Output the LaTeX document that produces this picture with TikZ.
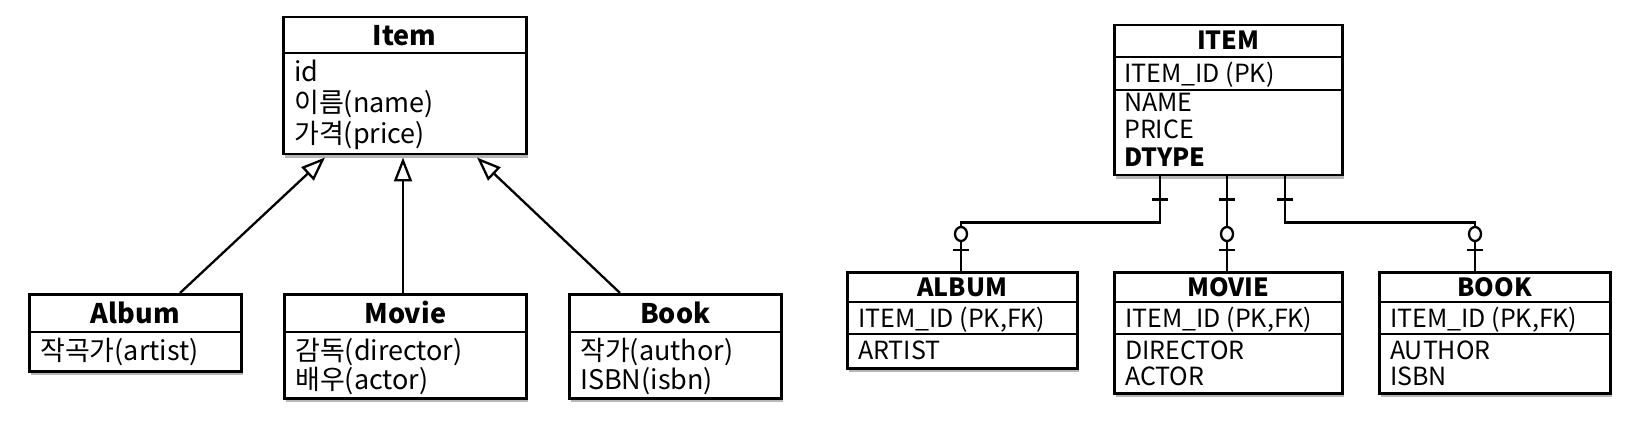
\documentclass[tikz,border=0pt]{standalone}
\usepackage{fontspec}
\setmainfont{Noto Sans CJK KR}
\usetikzlibrary{arrows.meta,shadows,calc}
\tikzset{
  box/.style={draw, line width=2.5pt, fill=white, inner sep=0pt, anchor=north west,
    drop shadow={shadow xshift=2pt, shadow yshift=-4pt, opacity=.4, fill=black!70}},
  sepline/.style={line width=2.3pt},
  ttl/.style={anchor=base, inner sep=0pt, font=\fontsize{27}{31}\selectfont\bfseries},
  txt/.style={anchor=base west, inner sep=0pt, font=\fontsize{27}{31}\selectfont},
  ttlR/.style={anchor=base, inner sep=0pt, font=\fontsize{25}{28}\selectfont\bfseries},
  txtR/.style={anchor=base west, inner sep=0pt, font=\fontsize{25}{28}\selectfont},
  conn/.style={line width=2.3pt, line cap=butt},
  gen/.style={conn, -{Triangle[open, fill=white, length=24pt, width=18pt, line width=2.3pt]}},
}
\begin{document}
\begin{tikzpicture}[x=1pt, y=-1pt]
\useasboundingbox[fill=white] (0,0) rectangle (1634,425);

% ---------------- Left: class diagram ----------------
\node[box, minimum width=243pt, minimum height=137pt] (item) at (282,16) {};
\draw[sepline] ($(item.north west)+(0,37)$) -- ($(item.north east)+(0,37)$);
\node[ttl] (itemT) at ($(item.north)+(0,30)$) {Item};
\node[txt] (item1) at ($(item.north west)+(12,66)$) {id};
\node[txt] (item2) at ($(item.north west)+(12,97)$) {이름(name)};
\node[txt] (item3) at ($(item.north west)+(12,128)$) {가격(price)};

\node[box, minimum width=212pt, minimum height=77pt] (album) at (28,293) {};
\draw[sepline] ($(album.north west)+(0,39)$) -- ($(album.north east)+(0,39)$);
\node[ttl] (albumT) at ($(album.north)+(0,30)$) {Album};
\node[txt] (album1) at ($(album.north west)+(12,67)$) {작곡가(artist)};

\node[box, minimum width=242pt, minimum height=104pt] (movie) at (283,293) {};
\draw[sepline] ($(movie.north west)+(0,39)$) -- ($(movie.north east)+(0,39)$);
\node[ttl] (movieT) at ($(movie.north)+(0,30)$) {Movie};
\node[txt] (movie1) at ($(movie.north west)+(12,67)$) {감독(director)};
\node[txt] (movie2) at ($(movie.north west)+(12,96)$) {배우(actor)};

\node[box, minimum width=212pt, minimum height=104pt] (book) at (568,293) {};
\draw[sepline] ($(book.north west)+(0,39)$) -- ($(book.north east)+(0,39)$);
\node[ttl] (bookT) at ($(book.north)+(0,30)$) {Book};
\node[txt] (book1) at ($(book.north west)+(12,67)$) {작가(author)};
\node[txt] (book2) at ($(book.north west)+(12,96)$) {ISBN(isbn)};

\coordinate (gA) at ($(item.south west)+(43,2)$);
\coordinate (gM) at ($(item.south west)+(121,2)$);
\coordinate (gB) at ($(item.south west)+(195,2)$);
\coordinate (sA) at ($(album.north west)+(152,0)$);
\coordinate (sM) at ($(movie.north west)+(120,0)$);
\coordinate (sB) at ($(book.north west)+(52,0)$);
\draw[gen] (sA) -- (gA);
\draw[gen] (sM) -- (gM);
\draw[gen] (sB) -- (gB);

% ---------------- Right: table diagram ----------------
\node[box, minimum width=228pt, minimum height=150pt] (ritem) at (1113,24) {};
\draw[sepline] ($(ritem.north west)+(0,33)$) -- ($(ritem.north east)+(0,33)$);
\draw[sepline] ($(ritem.north west)+(0,66)$) -- ($(ritem.north east)+(0,66)$);
\node[ttlR] (ritemT) at ($(ritem.north)+(0,26)$) {ITEM};
\node[txtR] (ritem0) at ($(ritem.north west)+(11,59)$) {ITEM\_ID (PK)};
\node[txtR] (ritem1) at ($(ritem.north west)+(11,88)$) {NAME};
\node[txtR] (ritem2) at ($(ritem.north west)+(11,115)$) {PRICE};
\node[txtR, font=\fontsize{25}{28}\selectfont\bfseries] (ritem3) at ($(ritem.north west)+(11,143)$) {DTYPE};

\node[box, minimum width=230pt, minimum height=96pt] (ralbum) at (846,271) {};
\draw[sepline] ($(ralbum.north west)+(0,31)$) -- ($(ralbum.north east)+(0,31)$);
\draw[sepline] ($(ralbum.north west)+(0,63)$) -- ($(ralbum.north east)+(0,63)$);
\node[ttlR] (ralbumT) at ($(ralbum.north)+(0,25)$) {ALBUM};
\node[txtR] (ralbum0) at ($(ralbum.north west)+(12,56)$) {ITEM\_ID (PK,FK)};
\node[txtR] (ralbum1) at ($(ralbum.north west)+(12,88)$) {ARTIST};

\node[box, minimum width=228pt, minimum height=121pt] (rmovie) at (1113,271) {};
\draw[sepline] ($(rmovie.north west)+(0,31)$) -- ($(rmovie.north east)+(0,31)$);
\draw[sepline] ($(rmovie.north west)+(0,63)$) -- ($(rmovie.north east)+(0,63)$);
\node[ttlR] (rmovieT) at ($(rmovie.north)+(0,25)$) {MOVIE};
\node[txtR] (rmovie0) at ($(rmovie.north west)+(12,56)$) {ITEM\_ID (PK,FK)};
\node[txtR] (rmovie1) at ($(rmovie.north west)+(12,88)$) {DIRECTOR};
\node[txtR] (rmovie2) at ($(rmovie.north west)+(12,114)$) {ACTOR};

\node[box, minimum width=231pt, minimum height=121pt] (rbook) at (1378,271) {};
\draw[sepline] ($(rbook.north west)+(0,31)$) -- ($(rbook.north east)+(0,31)$);
\draw[sepline] ($(rbook.north west)+(0,63)$) -- ($(rbook.north east)+(0,63)$);
\node[ttlR] (rbookT) at ($(rbook.north)+(0,25)$) {BOOK};
\node[txtR] (rbook0) at ($(rbook.north west)+(12,56)$) {ITEM\_ID (PK,FK)};
\node[txtR] (rbook1) at ($(rbook.north west)+(12,88)$) {AUTHOR};
\node[txtR] (rbook2) at ($(rbook.north west)+(12,114)$) {ISBN};

% connectors
\coordinate (pA) at ($(ritem.south west)+(47,0)$);
\coordinate (pM) at ($(ritem.south west)+(114,0)$);
\coordinate (pB) at ($(ritem.south west)+(172,0)$);
\coordinate (cA) at ($(ralbum.north west)+(115,0)$);
\coordinate (cM) at ($(rmovie.north west)+(114,0)$);
\coordinate (cB) at ($(rbook.north west)+(97,0)$);
\coordinate (kA) at ($(pA)+(0,46)$);
\coordinate (kB) at ($(pB)+(0,46)$);
\draw[conn] (pA) -- (kA) -| (cA);
\draw[conn] (pM) -- (cM);
\draw[conn] (pB) -- (kB) -| (cB);
% "one" bars on parent side
\foreach \p in {pA,pM,pB}{
  \draw[conn] ($(\p)+(-8,23)$) -- ($(\p)+(8,23)$);
}
% "zero or one" marks on child side
\foreach \c in {cA,cM,cB}{
  \draw[conn, fill=white] ($(\c)+(0,-37)$) ellipse[x radius=6, y radius=7];
  \draw[conn] ($(\c)+(-8,-21)$) -- ($(\c)+(8,-21)$);
}
\end{tikzpicture}
\end{document}
